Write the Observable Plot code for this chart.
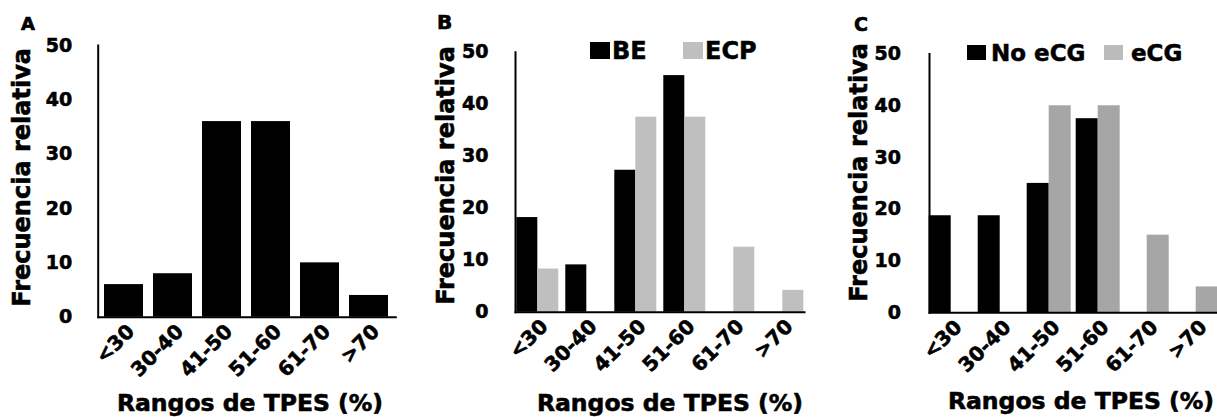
<!DOCTYPE html>
<html><head><meta charset="utf-8">
<script src="https://cdn.jsdelivr.net/npm/d3@7"></script>
<script src="https://cdn.jsdelivr.net/npm/@observablehq/plot@0.6"></script>
<style>
html,body{margin:0;padding:0;background:#fff;}
#wrap{position:relative;width:1217px;height:417px;overflow:hidden;font-family:"DejaVu Sans",sans-serif;font-weight:bold;color:#000;background:#fff;}
.panel{position:absolute;top:0;}
.panel svg text{stroke:#000;stroke-width:0.6px;paint-order:stroke;}
.tag{position:absolute;font-weight:bold;line-height:1;-webkit-text-stroke:0.7px #000;}
.lt{position:absolute;font-weight:bold;white-space:nowrap;-webkit-text-stroke:0.5px #000;}
.sw{position:absolute;}
</style></head><body><div id="wrap"></div>
<script>
const categories = ["<30", "30-40", "41-50", "51-60", "61-70", ">70"];
const valuesA = [6, 8, 36, 36, 10, 4];
const seriesB = ["BE", "ECP"];
const valuesBE = [18.2, 9.1, 27.3, 45.5, 0, 0];
const valuesECP = [8.3, 0, 37.5, 37.5, 12.5, 4.2];
const seriesC = ["No eCG", "eCG"];
const valuesNoECG = [18.75, 18.75, 25, 37.5, 0, 0];
const valuesECG = [0, 0, 40, 40, 15, 5];
const yTicks = [0, 10, 20, 30, 40, 50];
const yLabel = "Frecuencia relativa";
const xLabel = "Rangos de TPES (%)";

const wrap = document.getElementById("wrap");
const baseStyle = {fontFamily: "DejaVu Sans", fontWeight: "bold", fontSize: "19px", color: "#000", background: "transparent", overflow: "visible", maxWidth: "none"};

function addPanel(left, width, svg) {
  const d = document.createElement("div");
  d.className = "panel";
  d.style.left = left + "px";
  d.style.width = width + "px";
  d.appendChild(svg);
  wrap.appendChild(d);
}
function addTag(txt, x, y, size) {
  const d = document.createElement("div");
  d.className = "tag"; d.textContent = txt;
  d.style.left = x + "px"; d.style.top = y + "px"; d.style.fontSize = size + "px";
  wrap.appendChild(d);
}
function addSwatch(x, y, w, h, color) {
  const d = document.createElement("div");
  d.className = "sw";
  Object.assign(d.style, {left: x + "px", top: y + "px", width: w + "px", height: h + "px", background: color});
  wrap.appendChild(d);
}
function addLegendText(txt, x, y, size) {
  const d = document.createElement("div");
  d.className = "lt"; d.textContent = txt;
  Object.assign(d.style, {left: x + "px", top: y + "px", fontSize: size + "px", lineHeight: size + "px"});
  wrap.appendChild(d);
}

// Panel A
const dataA = categories.map((c, i) => ({cat: c, value: valuesA[i]}));
addPanel(0, 410, Plot.plot({
  width: 410, height: 417,
  marginLeft: 97.7, marginRight: 14.7, marginTop: 45, marginBottom: 100.3,
  style: baseStyle,
  x: {domain: categories, paddingInner: 0.2, paddingOuter: 0.1},
  y: {domain: [0, 50]},
  marks: [
    Plot.barY(dataA, {x: "cat", y: "value", fill: "#000"}),
    Plot.frame({anchor: "bottom", stroke: "#000", strokeWidth: 2}),
    Plot.frame({anchor: "left", stroke: "#000", strokeWidth: 2}),
    Plot.axisY({ticks: yTicks, tickSize: 0, tickPadding: 26, fontSize: 19, label: null}),
    Plot.axisX({tickRotate: -45, tickSize: 0, tickPadding: 11, dx: 7, fontSize: 20, label: null}),
    Plot.text([yLabel], {text: d => d, frameAnchor: "left", textAnchor: "middle", lineAnchor: "middle", rotate: -90, dx: -75.7, dy: -4, fontSize: 24}),
    Plot.text([xLabel], {text: d => d, frameAnchor: "bottom", textAnchor: "middle", lineAnchor: "middle", dx: 3, dy: 86, fontSize: 23.5})
  ]
}));

function grouped(series, v1, v2, colors, geom) {
  const data = categories.flatMap((c, i) => [
    {cat: c, series: series[0], value: v1[i]},
    {cat: c, series: series[1], value: v2[i]}
  ]);
  return Plot.plot({
    width: geom.width, height: 417,
    marginLeft: geom.ml, marginRight: geom.mr, marginTop: geom.mt, marginBottom: geom.mb,
    style: baseStyle,
    fx: {domain: categories, paddingInner: 0.1, paddingOuter: 0.05},
    x: {domain: series, padding: 0, axis: null},
    y: {domain: [0, 50]},
    color: {domain: series, range: colors},
    marks: [
      Plot.barY(data, {fx: "cat", x: "series", y: "value", fill: "series"}),
      Plot.frame({anchor: "bottom", stroke: "#000", strokeWidth: 2, facet: "super"}),
      Plot.frame({anchor: "left", stroke: "#000", strokeWidth: 2, facet: "super"}),
      Plot.axisY({ticks: yTicks, tickSize: 0, tickPadding: geom.tp, fontSize: 19, label: null}),
      Plot.axisFx({anchor: "bottom", tickRotate: -45, tickSize: 0, tickPadding: 11, dx: 7, fontSize: 20, label: null}),
      Plot.text([yLabel], {text: d => d, frameAnchor: "left", textAnchor: "middle", lineAnchor: "middle", rotate: -90, dx: geom.ydx, dy: geom.ydy, fontSize: 24, facet: "super"}),
      Plot.text([xLabel], {text: d => d, frameAnchor: "bottom", textAnchor: "middle", lineAnchor: "middle", dx: geom.xdx, dy: geom.xdy, fontSize: 23.5, facet: "super"})
    ]
  });
}

// Panel B
addPanel(410, 400, grouped(seriesB, valuesBE, valuesECP, ["#000", "#bfbfbf"],
  {width: 400, ml: 101.7, mr: 3.3, mt: 51.7, mb: 105.3, tp: 27, ydx: -69.5, ydy: -6.7, xdx: 10, xdy: 91}));

// Panel C
addPanel(810, 420, grouped(seriesC, valuesNoECG, valuesECG, ["#000", "#a6a6a6"],
  {width: 420, ml: 114.3, mr: 8, mt: 53.5, mb: 104.7, tp: 28.5, ydx: -70, ydy: -11, xdx: 7, xdy: 89}));

// Panel tags
addTag("A", 21, 15, 18);
addTag("B", 437, 12, 20);
addTag("C", 854, 15, 19);

// Legends
addSwatch(590, 42, 20, 17, "#000");
addLegendText(seriesB[0], 612, 39, 24);
addSwatch(683, 42, 20, 17, "#bfbfbf");
addLegendText(seriesB[1], 705, 39, 24);

addSwatch(967, 45, 19, 15, "#000");
addLegendText(seriesC[0], 991, 42, 23);
addSwatch(1104, 45, 19, 15, "#bbbbbb");
addLegendText(seriesC[1], 1131, 42, 23);
</script></body></html>
